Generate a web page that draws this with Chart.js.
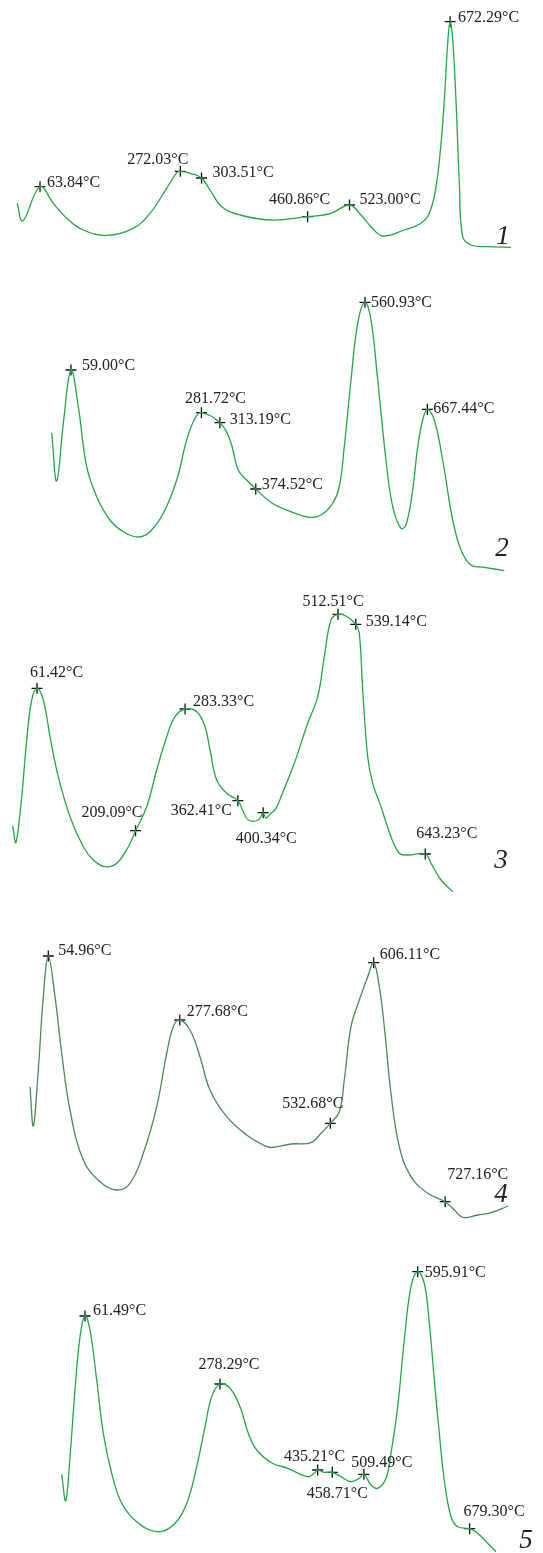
<!DOCTYPE html>
<html>
<head>
<meta charset="utf-8">
<title>DTA curves 1-5</title>
<script src="https://cdn.jsdelivr.net/npm/chart.js@4/dist/chart.umd.min.js"></script>
<style>
  body { margin: 0; background: #fff; }
  #wrap { position: relative; width: 543px; height: 1553px; overflow: hidden; }
  #wrap canvas { position: absolute; left: 0; }
  .num {
    position: absolute;
    font-family: "Liberation Serif", "Times New Roman", serif;
    font-style: italic;
    font-size: 27px;
    line-height: 1;
    color: #222;
    transform: translate(-50%, -50%);
  }
</style>
</head>
<body>
<div id="wrap">
  <canvas id="c1" width="543" height="260" style="top:0px"></canvas>
  <canvas id="c2" width="543" height="320" style="top:270px"></canvas>
  <canvas id="c3" width="543" height="320" style="top:590px"></canvas>
  <canvas id="c4" width="543" height="320" style="top:910px"></canvas>
  <canvas id="c5" width="543" height="323" style="top:1230px"></canvas>
  <span class="num" style="left:503px;top:235px">1</span>
  <span class="num" style="left:502px;top:547px">2</span>
  <span class="num" style="left:501px;top:859px">3</span>
  <span class="num" style="left:501px;top:1193px">4</span>
  <span class="num" style="left:526px;top:1539px">5</span>
</div>
<script>
// temperature (°C) and signal (arb. units)
const curve1Temp = [30.1, 38.2, 63.84, 83.6, 103.5, 128.1, 162.8, 202.3, 227.0, 251.8, 266.7, 272.03, 286.4, 303.51, 316.1, 333.4, 360.6, 406.6, 460.86, 495.6, 523.00, 540.1, 554.9, 572.3, 604.4, 629.1, 641.4, 651.4, 658.8, 663.7, 668.7, 672.29, 676.2, 681.0, 686.0, 691.0, 703.3, 728.1, 762.7];
const curve1Signal = [5.67, 3.9, 7.33, 5.67, 4.17, 3.0, 2.47, 3.17, 4.67, 7.17, 8.73, 8.87, 8.67, 8.2, 7.0, 5.33, 4.5, 4.0, 4.33, 4.67, 5.5, 4.5, 3.33, 2.4, 3.0, 3.67, 4.67, 7.33, 11.67, 16.0, 21.67, 23.83, 22.0, 16.0, 7.67, 2.33, 1.5, 1.33, 1.27];
const peaks1Temp = [63.84, 272.03, 303.51, 460.86, 523.00, 672.29];
const peaks1Signal = [7.33, 8.87, 8.2, 4.33, 5.5, 23.83];

const curve2Temp = [26.0, 34.6, 45.9, 59.00, 71.5, 85.8, 102.9, 125.6, 148.3, 173.9, 193.9, 216.6, 239.5, 256.5, 270.7, 281.72, 313.19, 330.5, 344.6, 359.0, 374.52, 401.3, 434.6, 465.9, 485.9, 505.8, 517.1, 525.6, 537.1, 548.5, 560.93, 571.2, 582.7, 596.8, 608.3, 622.4, 631.0, 642.4, 651.0, 659.5, 667.44, 679.3, 693.6, 710.7, 724.9, 742.0, 764.7, 798.8];
const curve2Signal = [15.73, 10.9, 16.67, 22.0, 18.33, 12.33, 9.33, 7.0, 5.83, 5.3, 5.83, 7.67, 11.0, 15.0, 17.17, 17.73, 16.73, 15.0, 12.0, 11.0, 10.1, 8.73, 7.83, 7.27, 7.5, 8.67, 10.33, 14.33, 21.0, 26.67, 28.77, 27.0, 21.0, 13.0, 8.33, 6.17, 6.5, 10.0, 14.33, 17.0, 18.07, 17.0, 13.0, 7.0, 4.0, 2.5, 2.27, 1.93];
const peaks2Temp = [59.00, 281.72, 313.19, 374.52, 560.93, 667.44];
const peaks2Signal = [22.0, 17.73, 16.73, 10.1, 28.77, 18.07];

const curve3Temp = [25.0, 29.9, 38.5, 46.0, 53.5, 61.42, 70.9, 80.9, 93.3, 110.9, 130.8, 145.8, 163.3, 180.9, 198.3, 209.09, 225.8, 240.8, 255.8, 268.2, 283.33, 300.8, 313.2, 320.7, 330.7, 345.7, 362.41, 370.6, 378.1, 393.1, 400.34, 404.6, 412.1, 419.6, 427.1, 447.0, 467.1, 482.1, 492.0, 502.0, 512.51, 524.5, 539.14, 544.4, 549.5, 557.0, 564.5, 576.9, 591.9, 604.4, 616.9, 643.23, 651.9, 666.9, 684.4];
const curve3Signal = [8.4, 6.77, 11.33, 17.0, 21.0, 22.17, 21.0, 17.33, 13.33, 9.33, 6.33, 5.0, 4.33, 4.67, 6.33, 7.93, 10.33, 14.0, 17.33, 19.33, 20.1, 19.83, 18.33, 16.0, 13.0, 11.67, 10.93, 9.83, 9.0, 9.0, 9.73, 9.2, 9.67, 10.17, 11.33, 14.67, 18.67, 21.33, 25.33, 29.0, 29.57, 29.4, 28.57, 27.67, 22.0, 15.33, 12.67, 10.33, 7.33, 5.67, 5.5, 5.6, 4.67, 3.0, 1.83];
const peaks3Temp = [61.42, 209.09, 283.33, 362.41, 400.34, 512.51, 539.14, 643.23];
const peaks3Signal = [22.17, 7.93, 20.1, 10.93, 9.73, 29.57, 28.57, 5.6];

const curve4Temp = [24.0, 29.6, 38.0, 46.5, 54.96, 66.3, 77.7, 91.7, 114.2, 142.5, 170.8, 193.3, 215.9, 238.6, 255.5, 266.7, 277.68, 295.0, 311.9, 328.8, 357.1, 391.0, 419.1, 433.0, 466.0, 499.9, 516.9, 532.68, 547.9, 556.3, 567.7, 581.8, 596.0, 606.11, 615.6, 624.1, 635.4, 649.5, 669.3, 697.6, 727.16, 742.7, 756.9, 782.3, 804.8, 834.1];
const curve4Signal = [14.33, 10.4, 16.0, 23.33, 27.4, 23.33, 17.67, 12.0, 7.0, 4.83, 4.0, 4.67, 7.67, 12.33, 17.67, 20.33, 21.0, 20.0, 17.33, 14.0, 11.33, 9.5, 8.5, 8.25, 8.6, 8.73, 9.67, 10.67, 11.83, 15.0, 20.33, 23.0, 25.33, 26.73, 24.33, 20.33, 13.67, 8.33, 5.33, 3.67, 2.83, 2.0, 1.27, 1.5, 1.73, 2.4];
const peaks4Temp = [54.96, 277.68, 532.68, 606.11, 727.16];
const peaks4Signal = [27.4, 21.0, 10.67, 26.73, 2.83];

const curve5Temp = [24.1, 30.5, 37.4, 45.4, 53.5, 61.49, 69.5, 80.3, 90.9, 104.4, 120.5, 144.5, 176.7, 203.3, 224.9, 240.9, 254.3, 265.0, 278.29, 294.4, 310.5, 323.8, 337.3, 361.1, 387.1, 419.2, 429.8, 435.21, 445.9, 458.71, 472.7, 488.8, 502.1, 509.49, 520.9, 531.7, 545.0, 553.0, 563.8, 574.4, 585.2, 595.91, 606.5, 614.6, 622.6, 630.6, 638.6, 649.4, 660.2, 679.30, 692.3, 708.4, 721.7];
const curve5Signal = [7.87, 5.23, 9.63, 16.3, 21.63, 23.7, 22.3, 17.3, 11.97, 7.97, 4.97, 3.13, 2.13, 2.8, 4.97, 8.63, 12.63, 15.63, 16.9, 16.47, 14.63, 11.97, 10.3, 9.03, 8.47, 7.63, 7.97, 8.3, 8.07, 8.07, 7.63, 7.13, 7.47, 7.87, 6.8, 6.47, 7.47, 9.97, 14.63, 21.3, 26.63, 28.13, 26.97, 22.97, 17.3, 11.97, 7.3, 3.63, 2.63, 2.43, 1.97, 0.97, 0.13];
const peaks5Temp = [61.49, 278.29, 435.21, 458.71, 509.49, 595.91, 679.30];
const peaks5Signal = [23.7, 16.9, 8.3, 8.07, 7.87, 28.13, 2.43];

// label offsets from the marker: dx, dy, align
const place1 = [[7, -4, 'left'], [8, -12, 'right'], [11, -5, 'left'], [-8, -17, 'center'], [10, -5, 'left'], [8, -4, 'left']];
const place2 = [[11, -4.5, 'left'], [14, -14, 'center'], [10, -3, 'left'], [6, -4, 'left'], [6, 0, 'left'], [6, -1, 'left']];
const place3 = [[-7, -16, 'left'], [7, -18, 'right'], [8, -7, 'left'], [-6, 10, 'right'], [3, 26, 'center'], [-5, -13, 'center'], [10, -3, 'left'], [-9, -20, 'left']];
const place4 = [[10, -5.5, 'left'], [7, -8, 'left'], [13, -20, 'right'], [6, -8, 'left'], [2, -27, 'left']];
const place5 = [[8, -5, 'left'], [9, -19, 'center'], [-3, -13, 'center'], [5, 21, 'center'], [18, -12, 'center'], [7, 1, 'left'], [-6, -17, 'left']];

const peakLabels = {
    id: 'peakLabels',
    afterDatasetsDraw(chart, args, opts) {
        const meta = chart.getDatasetMeta(1);
        const ctx = chart.ctx;
        ctx.save();
        ctx.font = '16px "Liberation Serif", "Times New Roman", serif';
        ctx.fillStyle = '#222';
        ctx.textBaseline = 'middle';
        meta.data.forEach(function (pt, i) {
            const p = opts.place[i];
            ctx.textAlign = p[2];
            ctx.fillText(opts.temps[i].toFixed(2) + '°C', pt.x + p[0], pt.y + p[1]);
        });
        ctx.restore();
    }
};

function toPoints(xs, ys) {
    let pts = [];
    for (let i = 0; i < xs.length; i++) {
        pts.push({x: xs[i], y: ys[i]});
    }
    return pts;
}

function drawCurve(id, temps, signals, peakTemps, peakSignals, place, color, xMin, xMax, yMax)
{
    const ctx = document.getElementById(id).getContext('2d');
    new Chart(ctx, {
        type: 'line',
        data: {
            datasets: [{
                data: toPoints(temps, signals),
                borderColor: color,
                borderWidth: 1.3,
                pointRadius: 0,
                tension: 0.4,
                clip: false
            }, {
                data: toPoints(peakTemps, peakSignals),
                showLine: false,
                pointStyle: 'cross',
                pointRadius: 5.5,
                pointBorderWidth: 1.3,
                pointBorderColor: '#111',
                clip: false
            }]
        },
        options: {
            responsive: false,
            animation: false,
            layout: { padding: 0, autoPadding: false },
            plugins: {
                legend: { display: false },
                tooltip: { enabled: false },
                peakLabels: { temps: peakTemps, place: place }
            },
            scales: {
                x: { type: 'linear', display: false, min: xMin, max: xMax },
                y: { display: false, min: 0, max: yMax }
            }
        },
        plugins: [peakLabels]
    });
}

const green = '#22a845';
drawCurve('c1', curve1Temp, curve1Signal, peaks1Temp, peaks1Signal, place1, green, 4.49, 810.1, 26);
drawCurve('c2', curve2Temp, curve2Signal, peaks2Temp, peaks2Signal, place2, green, -62.2, 864.9, 32);
drawCurve('c3', curve3Temp, curve3Signal, peaks3Temp, peaks3Signal, place3, green, 5.97, 819.7, 32);
drawCurve('c4', curve4Temp, curve4Signal, peaks4Temp, peaks4Signal, place4, '#4b8a55', -26.85, 892.9, 32);
drawCurve('c5', curve5Temp, curve5Signal, peaks5Temp, peaks5Signal, place5, green, -75.05, 797.2, 32.3);
</script>
</body>
</html>
